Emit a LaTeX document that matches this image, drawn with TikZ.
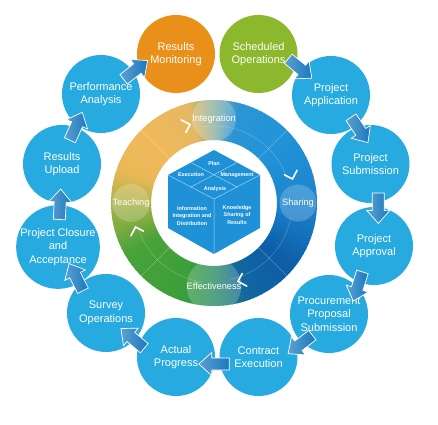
\documentclass[tikz,border=0pt]{standalone}
\usepackage{fontspec}
\setmainfont{Liberation Sans}
\usetikzlibrary{calc}
\definecolor{cblue}{HTML}{27AAE0}
\definecolor{corange}{HTML}{E9901A}
\definecolor{cgreen}{HTML}{8BB82C}
\definecolor{cubeblue}{HTML}{1F91D7}
\definecolor{arrlight}{HTML}{5CA0D0}
\definecolor{arrdark}{HTML}{1A78BE}
\definecolor{rgA}{HTML}{1C84CE}
\definecolor{rgB}{HTML}{2294D8}
\definecolor{rgC}{HTML}{2B95D3}
\definecolor{rgD}{HTML}{8DB0A0}
\definecolor{rgE}{HTML}{E5B862}
\definecolor{rgF}{HTML}{F0B95A}
\definecolor{rgG}{HTML}{EBB858}
\definecolor{rgH}{HTML}{9BB147}
\definecolor{rgI}{HTML}{48A33A}
\definecolor{rgJ}{HTML}{3C9F3A}
\definecolor{rgK}{HTML}{2B8D63}
\definecolor{rgL}{HTML}{12679F}
\definecolor{rgM}{HTML}{0C5DA7}
\newcommand\ringpart[4]{%
  \foreach \k in {0,...,11}{%
    \pgfmathsetmacro\aa{#1+(#2-#1)*\k/12}%
    \pgfmathsetmacro\ab{#1+(#2-#1)*(\k+1)/12+0.5}%
    \pgfmathtruncatemacro\pp{100*(\k+0.5)/12}%
    \fill[#4!\pp!#3] (\aa:63) arc[start angle=\aa, end angle=\ab, radius=63]
      -- (\ab:103) arc[start angle=\ab, end angle=\aa, radius=103] -- cycle;
  }}
\newcommand\flowarrow[5]{%
  \pgfmathanglebetweenpoints{\pgfpointanchor{#1}{center}}{\pgfpointanchor{#2}{center}}%
  \pgfmathsetmacro\arrang{\pgfmathresult+#5}%
  \begin{scope}[shift={($(#1)!0.5!(#2)$)}, rotate=\arrang, shift={(#3,#4)}]
    \shade[flowarr] (-15,6) -- (2.5,6) -- (2.5,11.5) -- (15.5,0) -- (2.5,-11.5)
      -- (2.5,-6) -- (-15,-6) -- cycle;
  \end{scope}}
\begin{document}
\begin{tikzpicture}[x=1pt,y=1pt,
  stepcirc/.style={circle, minimum size=78, inner sep=0, fill=cblue, text=white,
    align=center, font=\fontsize{11}{13.5}\selectfont},
  ringlab/.style={circle, minimum size=37, inner sep=0, fill=white, fill opacity=0.2,
    text opacity=1, text=white, font=\fontsize{9.2}{10}\selectfont},
  cubelab/.style={text=white, align=center, inner sep=0,
    font=\fontsize{5.4}{7.2}\selectfont\bfseries},
  faint/.style={white, opacity=0.3, line width=0.4},
  chev/.style={white, line width=1.6, line cap=round, line join=miter},
  flowarr/.style={left color=arrlight, right color=arrdark, draw=white, line width=0.7}]
\useasboundingbox (0,0) rectangle (438,424);
\fill[white] (0,0) rectangle (438,424);

% ring
\begin{scope}[shift={(214,221)}]
  \ringpart{0}{45}{rgA}{rgB}
  \ringpart{45}{75}{rgB}{rgC}
  \ringpart{75}{90}{rgC}{rgD}
  \ringpart{90}{105}{rgD}{rgE}
  \ringpart{105}{135}{rgE}{rgF}
  \ringpart{135}{160}{rgF}{rgG}
  \ringpart{160}{185}{rgG}{rgH}
  \ringpart{185}{210}{rgH}{rgI}
  \ringpart{210}{250}{rgI}{rgJ}
  \ringpart{250}{270}{rgJ}{rgK}
  \ringpart{270}{290}{rgK}{rgL}
  \ringpart{290}{320}{rgL}{rgM}
  \ringpart{320}{360}{rgM}{rgA}
  \foreach \t in {45,135,225,315}{\draw[faint] (\t:63) -- (\t:103);}
  \draw[faint] (100:77) arc[start angle=100, end angle=18, radius=77];
  \draw[faint] (198:80) arc[start angle=198, end angle=262, radius=80];
  \draw[faint] (282:78) arc[start angle=282, end angle=350, radius=78];
  \node[ringlab] (lint) at (90:84) {Integration};
  \node[ringlab] (lsha) at (0:84) {Sharing};
  \node[ringlab] (leff) at (270:83) {Effectiveness};
  \node[ringlab] (ltea) at (180:83) {Teaching};
  \foreach \t in {90,0,270,180}{
    \draw[chev] ($(\t+17:82)+(\t+62:10)$) -- (\t+17:82) -- ($(\t+17:82)+(\t+152:9)$);
  }
\end{scope}

% cube
\coordinate (T) at (214,274);
\coordinate (UL) at (168,249);
\coordinate (UR) at (260,249);
\coordinate (C) at (214,225);
\coordinate (LL) at (168,196);
\coordinate (LR) at (260,196);
\coordinate (B) at (214,170);
\fill[cubeblue] (T) -- (UR) -- (LR) -- (B) -- (LL) -- (UL) -- cycle;
\draw[white, opacity=0.6, line width=0.5] (UL) -- (C) -- (UR) (C) -- (B);
\draw[white, opacity=0.6, line width=0.5] ($(T)!0.5!(UL)$) -- ($(UR)!0.5!(C)$)
  ($(T)!0.5!(UR)$) -- ($(UL)!0.5!(C)$);
\node[cubelab] (plan) at (214,260) {Plan};
\node[cubelab] (exe) at (191,249) {Execution};
\node[cubelab] (man) at (237,249) {Management};
\node[cubelab] (ana) at (215,235) {Analysis};
\node[cubelab] (info) at (192,208) {Information\\Integration and\\Distribution};
\node[cubelab] (know) at (237,209) {Knowledge\\Sharing of\\Results};

% circles
\node[stepcirc, fill=corange] (RM) at (176,370) {Results\\Monitoring};
\node[stepcirc, fill=cgreen] (SO) at (258.5,370) {Scheduled\\Operations};
\node[stepcirc] (PA) at (331,329) {Project\\Application};
\node[stepcirc] (PS) at (370.5,260) {Project\\Submission};
\node[stepcirc] (AP) at (374,178) {Project\\Approval};
\node[stepcirc] (PP) at (329,110) {Procurement\\Proposal\\Submission};
\node[stepcirc] (CE) at (258.5,67) {Contract\\Execution};
\node[stepcirc] (AC) at (176,67) {Actual\\Progress};
\node[stepcirc] (SV) at (106,111) {Survey\\Operations};
\node[stepcirc] (CL) at (58,177) {Project Closure\\and\\Acceptance};
\node[stepcirc] (RU) at (62,260) {Results\\Upload};
\node[stepcirc] (PF) at (101,330) {Performance\\Analysis};

% arrows: from, to, along, perp, angle tweak
\flowarrow{SO}{PA}{0}{8}{-10}
\flowarrow{PA}{PS}{5}{7}{4}
\flowarrow{PS}{AP}{3}{6}{-2}
\flowarrow{AP}{PP}{4}{8}{16}
\flowarrow{PP}{CE}{0}{11}{6}
\flowarrow{CE}{AC}{3}{7}{0}
\flowarrow{AC}{SV}{4}{8}{-8}
\flowarrow{SV}{CL}{5}{4}{-9}
\flowarrow{CL}{RU}{1}{0}{0}
\flowarrow{RU}{PF}{0}{6}{5}
\flowarrow{PF}{RM}{0}{5}{10}
\end{tikzpicture}
\end{document}
